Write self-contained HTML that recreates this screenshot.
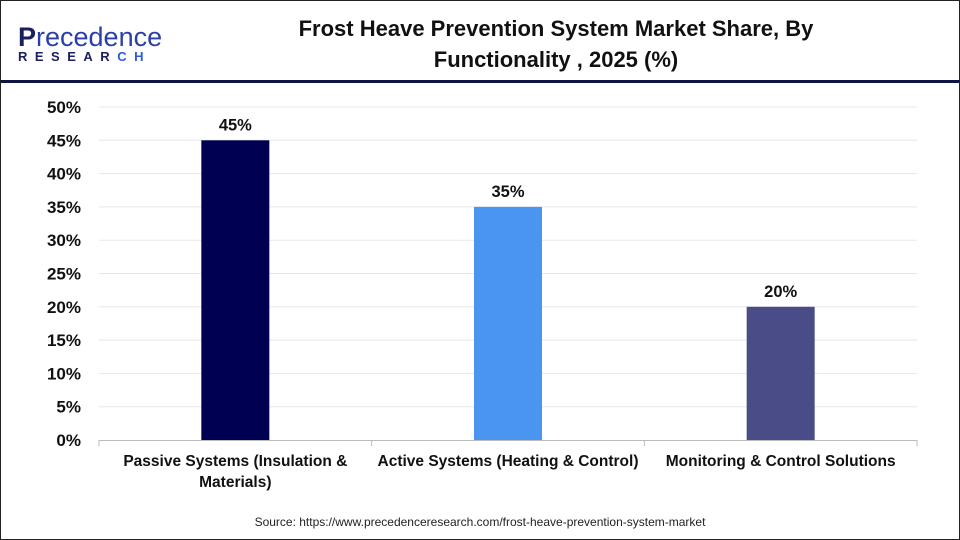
<!DOCTYPE html>
<html><head><meta charset="utf-8"><style>
body{margin:0;background:#fff;}
#wrap{position:relative;width:958px;height:538px;border:1px solid #222;background:#fff;overflow:hidden;font-family:"Liberation Sans",Arial,sans-serif;}
</style></head><body>
<div id="wrap">
<div style="position:absolute;left:17px;top:22px;">
 <div style="font-size:27px;color:#1a1f5e;letter-spacing:0px;line-height:28px;font-weight:bold;">P<span style="color:#2a3fa8;font-weight:normal">recedence</span></div>
 <div style="font-size:13px;color:#1a1f5e;letter-spacing:7.5px;font-weight:bold;margin-top:-2px;">RESEAR<span style="color:#2d5bd8">CH</span></div>
</div>
<div style="position:absolute;left:230px;top:12px;width:650px;text-align:center;font-weight:bold;font-size:22px;line-height:31px;color:#111;">Frost Heave Prevention System Market Share, By<br>Functionality , 2025 (%)</div>
<div style="position:absolute;left:0;top:79px;width:958px;height:3px;background:#0f1541;"></div>
<svg id="chart" width="958" height="538" style="position:absolute;left:0;top:0"></svg>
<div style="position:absolute;left:0;top:514px;width:958px;text-align:center;font-size:12px;color:#222;">Source: https://www.precedenceresearch.com/frost-heave-prevention-system-market</div>
</div>
<script>
const categories=["Passive Systems (Insulation & Materials)","Active Systems (Heating & Control)","Monitoring & Control Solutions"];
const catLines=[["Passive Systems (Insulation &","Materials)"],["Active Systems (Heating & Control)"],["Monitoring & Control Solutions"]];
const values=[45,35,20];
const colors=["#000052","#4a95f0","#4a4c88"];
const tickValues=[0,5,10,15,20,25,30,35,40,45,50];
const NS="http://www.w3.org/2000/svg";
const svg=document.getElementById("chart");
const x0=98,x1=916,y0=439,yTop=106,maxV=50;
function y(v){return y0-(v/maxV)*(y0-yTop);}
const band=(x1-x0)/categories.length;
function xc(i){return x0+band*(i+0.5);}
function mk(t,a){const e=document.createElementNS(NS,t);for(const k in a)e.setAttribute(k,a[k]);svg.appendChild(e);return e;}
tickValues.forEach(v=>{
 if(v>0){const g=mk("line",{x1:x0,x2:x1,y1:y(v),y2:y(v),stroke:"#e8e8e8","stroke-width":1});
 
 }
 const t=mk("text",{x:80,y:y(v)+6,"text-anchor":"end","font-size":17,"font-weight":"bold",fill:"#111","font-family":"Liberation Sans, sans-serif"});
 t.textContent=v+"%";
 
 
});
const ax=mk("line",{x1:x0,x2:x1,y1:y0+0.5,y2:y0+0.5,stroke:"#bbb","stroke-width":1});


for(let i=0;i<=categories.length;i++){
 const tk=mk("line",{x1:x0+band*i,x2:x0+band*i,y1:y0,y2:y0+6,stroke:"#bbb"});
 
 
}
values.forEach((v,i)=>{
 const bw=68;
 const r=mk("rect",{x:xc(i)-bw/2,y:y(v),width:bw,height:y0-y(v),fill:colors[i]});
 
 
 const l=mk("text",{x:xc(i),y:y(v)-10,"text-anchor":"middle","font-size":16.5,"font-weight":"bold",fill:"#111","font-family":"Liberation Sans, sans-serif"});
 l.textContent=v+"%";
 
 
 catLines[i].forEach((ln,j)=>{
  const c=mk("text",{x:xc(i),y:465+j*21,"text-anchor":"middle","font-size":15.5,"font-weight":"bold",fill:"#111","font-family":"Liberation Sans, sans-serif"});
  c.textContent=ln;
  
  
 });
});
</script>
</body></html>
